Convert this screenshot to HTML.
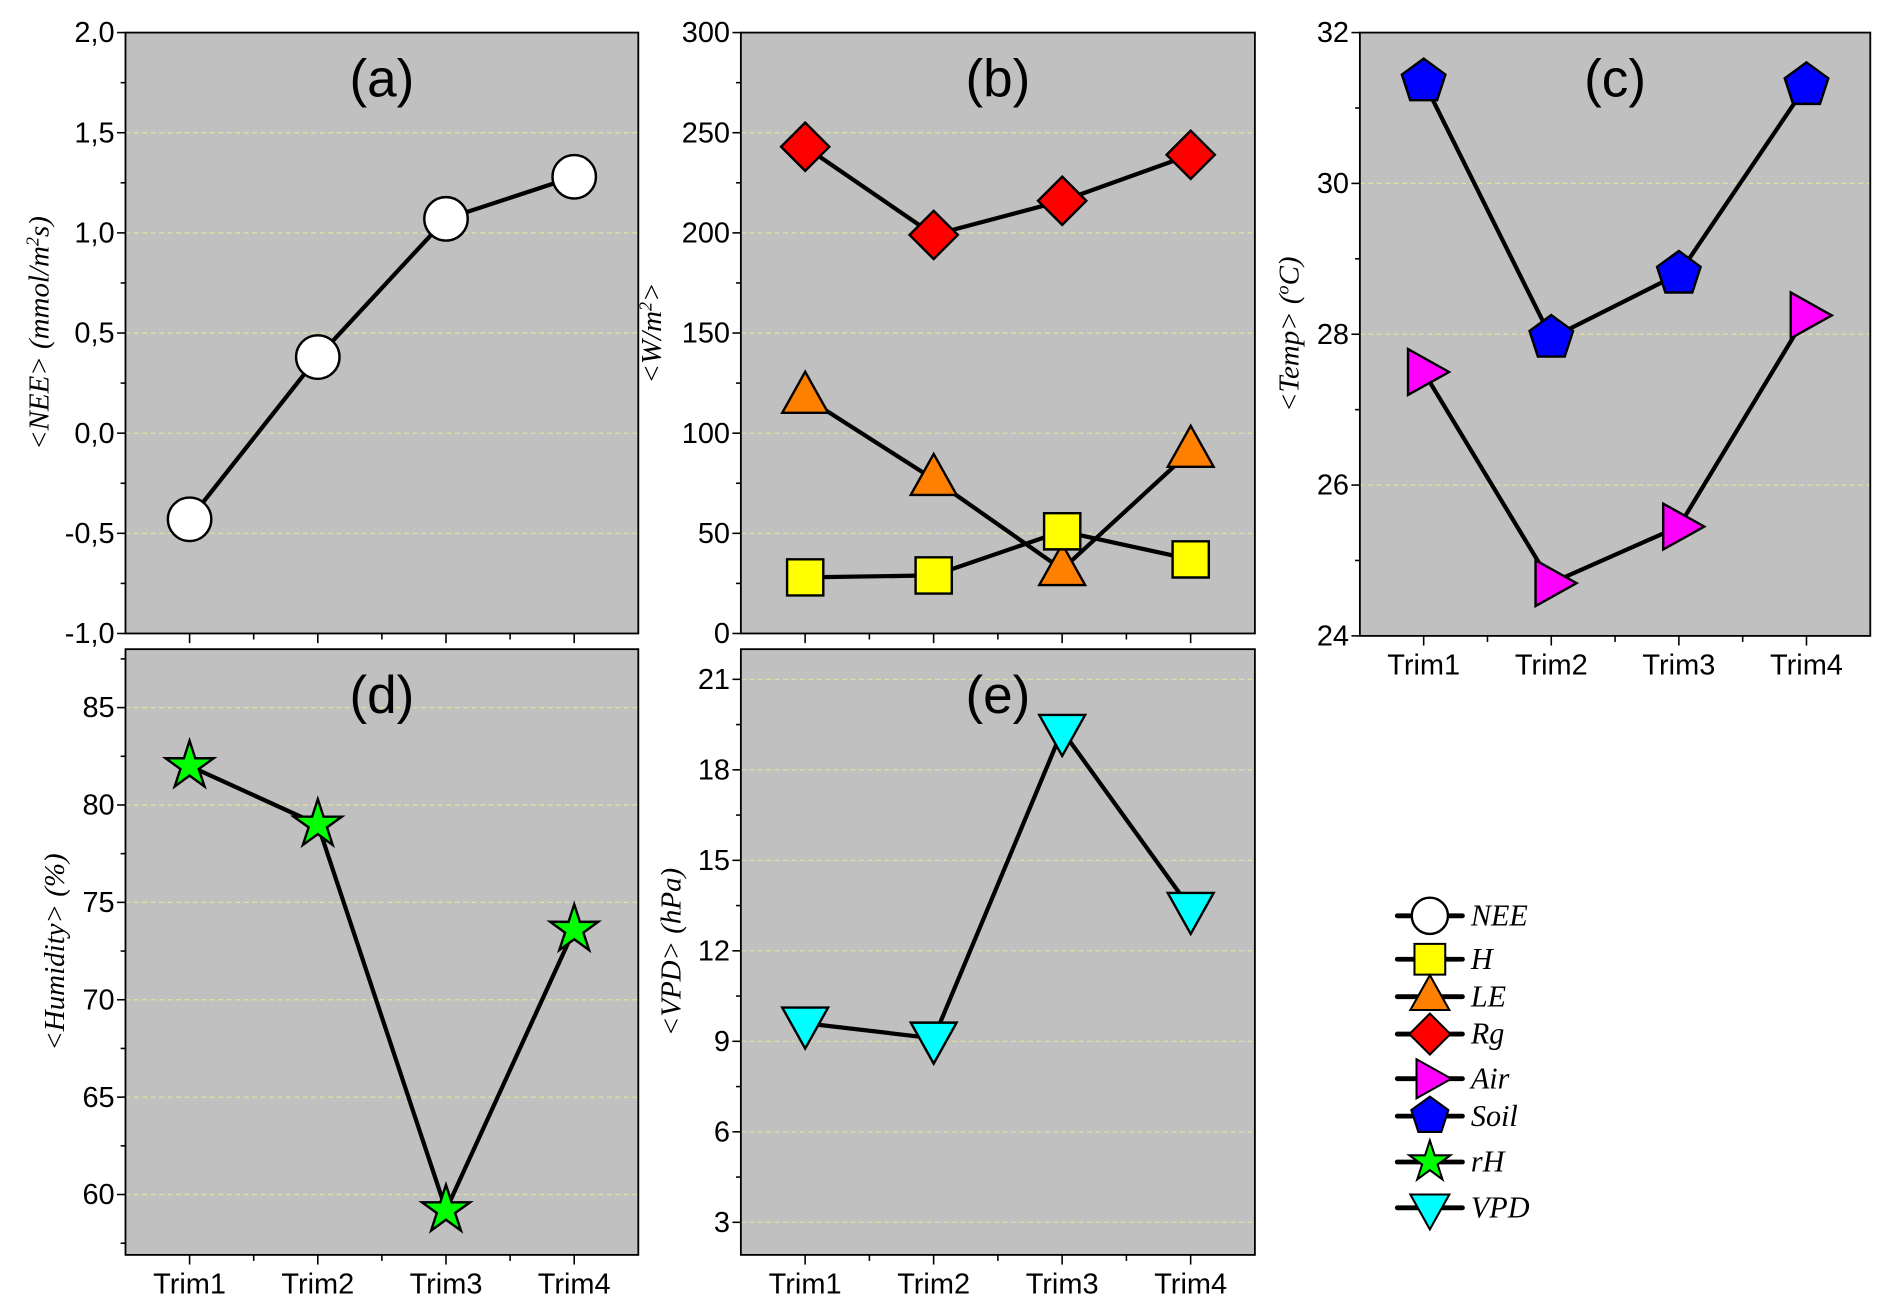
<!DOCTYPE html>
<html><head><meta charset="utf-8"><style>
html,body{margin:0;padding:0;background:#fff;}
svg{display:block;}
.tk{font-family:"Liberation Sans",Arial,sans-serif;font-size:24px;fill:#000;}
.tt{font-family:"Liberation Sans",Arial,sans-serif;font-size:44px;fill:#000;}
.yt{font-family:"Liberation Serif",serif;font-style:italic;font-size:24px;fill:#000;}
.lg{font-family:"Liberation Serif",serif;font-style:italic;font-size:25px;fill:#000;}
</style></head><body>
<svg id="fig" width="1892" height="1311" viewBox="0 0 1568 1086.5" preserveAspectRatio="none" xmlns="http://www.w3.org/2000/svg"></svg>
<script>
const categories = ["Trim1","Trim2","Trim3","Trim4"];
const neeValues = [-0.43, 0.38, 1.07, 1.28];
const hValues = [28, 29, 51, 37];
const leValues = [118, 77, 32, 91];
const rgValues = [243, 199, 216, 239];
const airValues = [27.5, 24.7, 25.45, 28.25];
const soilValues = [31.35, 27.95, 28.8, 31.3];
const rhValues = [82, 79, 59.2, 73.6];
const vpdValues = [9.6, 9.1, 19.3, 13.4];
const ticksA = [-1, -0.5, 0, 0.5, 1, 1.5, 2];
const ticksB = [0, 50, 100, 150, 200, 250, 300];
const ticksC = [24, 26, 28, 30, 32];
const ticksD = [60, 65, 70, 75, 80, 85];
const ticksE = [3, 6, 9, 12, 15, 18, 21];

const NS = "http://www.w3.org/2000/svg";
const svg = document.getElementById('fig');
function mk(tag, attrs, parent) {
  const e = document.createElementNS(NS, tag);
  for (const k in attrs) e.setAttribute(k, attrs[k]);
  (parent || svg).appendChild(e);
  return e;
}
function markerPath(shape, cx, cy) {
  let pts = [];
  if (shape === 'square') { const s = 15; pts = [[cx-s,cy-s],[cx+s,cy-s],[cx+s,cy+s],[cx-s,cy+s]]; }
  if (shape === 'diamond') { pts = [[cx,cy-20],[cx+20,cy],[cx,cy+20],[cx-20,cy]]; }
  if (shape === 'up') { pts = [[cx,cy-21],[cx+19,cy+13],[cx-19,cy+13]]; }
  if (shape === 'down') { pts = [[cx,cy+21],[cx+19,cy-13],[cx-19,cy-13]]; }
  if (shape === 'right') { pts = [[cx+21,cy],[cx-13,cy-19],[cx-13,cy+19]]; }
  if (shape === 'pent') { for (let i=0;i<5;i++){const a=-Math.PI/2+i*2*Math.PI/5; pts.push([cx+19*Math.cos(a), cy+19*Math.sin(a)]);} }
  if (shape === 'star') { for (let i=0;i<10;i++){const a=-Math.PI/2+i*Math.PI/5; const rr=i%2?8:21; pts.push([cx+rr*Math.cos(a), cy+rr*Math.sin(a)]);} }
  return pts.map(p=>p[0].toFixed(1)+','+p[1].toFixed(1)).join(' ');
}
function drawMarker(shape, fill, cx, cy, g) {
  if (shape === 'circle') return mk('circle', {cx:cx, cy:cy, r:18, fill:fill, stroke:'#000','stroke-width':2}, g);
  return mk('polygon', {points:markerPath(shape,cx,cy), fill:fill, stroke:'#000','stroke-width':2}, g);
}
function fmt(v, comma) {
  return comma ? v.toFixed(1).replace('.', ',') : String(v);
}
function panel(o) {
  const g = mk('g', {});
  
  
  const L=o.x0, R=o.x1, T=o.y0, B=o.y1;
  const xs = i => L + (i + 1 - 0.5) * (R - L) / 4;
  const ys = v => B - (v - o.min) / (o.max - o.min) * (B - T);
  const bg = mk('rect', {x:L, y:T, width:R-L, height:B-T, fill:'#c0c0c0'}, g);
  
  
  o.ticks.forEach(t => {
    const y = ys(t);
    if (y > T + 2 && y < B - 2) mk('line', {x1:L, x2:R, y1:y, y2:y, stroke:'#e2e29a','stroke-width':1,'stroke-dasharray':'4,3'}, g);
  });
  mk('rect', {x:L, y:T, width:R-L, height:B-T, fill:'none', stroke:'#000','stroke-width':1.5}, g);
  const step = o.ticks[1]-o.ticks[0];
  for (let v = o.ticks[0] - step; v <= o.max + 1e-9; v += step/2) {
    if (v < o.min - 1e-9) continue;
    const y = ys(v);
    const major = o.ticks.some(t => Math.abs(t - v) < 1e-9);
    mk('line', {x1:L-(major?7:4), x2:L, y1:y, y2:y, stroke:'#000','stroke-width':1.3}, g);
  }
  o.ticks.forEach(t => {
    const tx = mk('text', {x:L-9, y:ys(t)+8, 'text-anchor':'end', class:'tk'}, g);
    tx.textContent = fmt(t, o.comma);
    
    
  });
  for (let i = 0; i < 4; i++) {
    mk('line', {x1:xs(i), x2:xs(i), y1:B, y2:B+8, stroke:'#000','stroke-width':1.3}, g);
    if (i < 3) mk('line', {x1:(xs(i)+xs(i+1))/2, x2:(xs(i)+xs(i+1))/2, y1:B, y2:B+5, stroke:'#000','stroke-width':1.3}, g);
    if (o.xlabels) {
      const tx = mk('text', {x:xs(i), y:B+32, 'text-anchor':'middle', class:'tk'}, g);
      tx.textContent = categories[i];
      
      
    }
  }
  const tt = mk('text', {x:(L+R)/2, y:T+53, 'text-anchor':'middle', class:'tt'}, g);
  tt.textContent = o.title;
  
  
  const yt = mk('text', {x:0, y:0, 'text-anchor':'middle', class:'yt', transform:`translate(${o.ytx},${(T+B)/2}) rotate(-90)`}, g);
  yt.innerHTML = o.ytitle;
  
  
  o.series.forEach(s => {
    const sg = mk('g', {}, g);
    
    
    const d = s.values.map((v,i) => (i?'L':'M') + xs(i) + ',' + ys(v)).join(' ');
    mk('path', {d:d, fill:'none', stroke:'#000','stroke-width':3.5,'stroke-linejoin':'round'}, sg);
    s.values.forEach((v,i) => {
      const m = drawMarker(s.shape, s.fill, xs(i), ys(v), sg);
      
      
    });
  });
}
panel({name:'panel-a-nee', x0:104, x1:529, y0:27, y1:525, min:-1, max:2, ticks:ticksA, comma:true, title:'(a)', ytx:40,
  ytitle:'&lt;NEE&gt; (mmol/m<tspan dy="-8" font-size="15">2</tspan><tspan dy="8">s)</tspan>',
  series:[{name:'series-nee', values:neeValues, shape:'circle', fill:'#fff'}]});
panel({name:'panel-b-energy', x0:614, x1:1040, y0:27, y1:525, min:0, max:300, ticks:ticksB, title:'(b)', ytx:548,
  ytitle:'&lt;W/m<tspan dy="-8" font-size="15">2</tspan><tspan dy="8">&gt;</tspan>',
  series:[{name:'series-rg', values:rgValues, shape:'diamond', fill:'#ff0000'},
          {name:'series-le', values:leValues, shape:'up', fill:'#ff8000'},
          {name:'series-h', values:hValues, shape:'square', fill:'#ffff00'}]});
panel({name:'panel-c-temp', x0:1127, x1:1550, y0:27, y1:527, min:24, max:32, ticks:ticksC, title:'(c)', ytx:1076, xlabels:true,
  ytitle:'&lt;Temp&gt; (<tspan dy="-8" font-size="15">o</tspan><tspan dy="8">C)</tspan>',
  series:[{name:'series-soil', values:soilValues, shape:'pent', fill:'#0000ff'},
          {name:'series-air', values:airValues, shape:'right', fill:'#ff00ff'}]});
panel({name:'panel-d-humidity', x0:104, x1:529, y0:538, y1:1040, min:56.9, max:88, ticks:ticksD, title:'(d)', ytx:53, xlabels:true,
  ytitle:'&lt;Humidity&gt; (%)',
  series:[{name:'series-rh', values:rhValues, shape:'star', fill:'#00ff00'}]});
panel({name:'panel-e-vpd', x0:614, x1:1040, y0:538, y1:1040, min:1.92, max:22, ticks:ticksE, title:'(e)', ytx:564, xlabels:true,
  ytitle:'&lt;VPD&gt; (hPa)',
  series:[{name:'series-vpd', values:vpdValues, shape:'down', fill:'#00ffff'}]});

const legNames = ['NEE','H','LE','Rg','Air','Soil','rH','VPD'];
const legShapes = ['circle','square','up','diamond','right','pent','star','down'];
const legFills = ['#fff','#ffff00','#ff8000','#ff0000','#ff00ff','#0000ff','#00ff00','#00ffff'];
const legY = [759,795,826,857,894,925,963,1001];
const lgG = mk('g', {});


legNames.forEach((n,i) => {
  const eg = mk('g', {}, lgG);
  
  
  mk('line', {x1:1158, x2:1212, y1:legY[i], y2:legY[i], stroke:'#000','stroke-width':4,'stroke-linecap':'round'}, eg);
  const m = drawMarker(legShapes[i], legFills[i], 1185, legY[i], eg);
  if (legShapes[i] !== 'circle') m.setAttribute('transform', `translate(1185,${legY[i]}) scale(0.85) translate(-1185,${-legY[i]})`);
  else m.setAttribute('r', 15);
  const t = mk('text', {x:1219, y:legY[i]+8, class:'lg'}, eg);
  t.textContent = n;
});
</script>
</body></html>
